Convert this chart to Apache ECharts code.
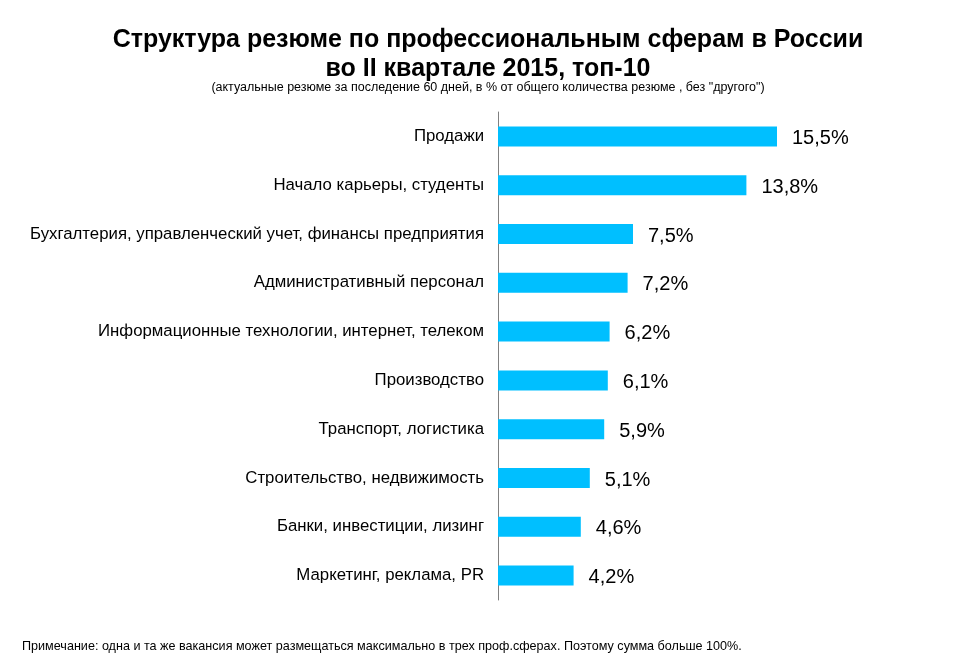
<!DOCTYPE html>
<html>
<head>
<meta charset="utf-8">
<script src="https://cdn.jsdelivr.net/npm/echarts@6/dist/echarts.min.js"></script>
<style>
    html, body { margin: 0; padding: 0; background: #fff; }
    #chart { width: 976px; height: 667px; }
</style>
</head>
<body>
<div id="chart"></div>
<script>
// categories listed bottom-to-top, the order the y axis draws them
const categories = [
    'Маркетинг, реклама, PR',
    'Банки, инвестиции, лизинг',
    'Строительство, недвижимость',
    'Транспорт, логистика',
    'Производство',
    'Информационные технологии, интернет, телеком',
    'Административный персонал',
    'Бухгалтерия, управленческий учет, финансы предприятия',
    'Начало карьеры, студенты',
    'Продажи'
];
const shares = [4.2, 4.6, 5.1, 5.9, 6.1, 6.2, 7.2, 7.5, 13.8, 15.5];

const FONT = 'Liberation Sans, Arial, sans-serif';

function getChartOption() {
    const option = {
        backgroundColor: '#ffffff',
        animation: false,
        title: [
            {
                text: 'Структура резюме по профессиональным сферам в России\nво II квартале 2015, топ-10',
                left: 'center',
                top: 26,
                padding: 0,
                textStyle: {
                    fontFamily: FONT,
                    fontSize: 25,
                    fontWeight: 'bold',
                    color: '#000',
                    lineHeight: 29,
                },
            },
            {
                text: '(актуальные резюме за последение 60 дней, в % от общего количества резюме , без "другого")',
                left: 'center',
                top: 81,
                padding: 0,
                textStyle: {
                    fontFamily: FONT,
                    fontSize: 12.5,
                    fontWeight: 'normal',
                    color: '#000',
                },
            },
            {
                text: 'Примечание: одна и та же вакансия может размещаться максимально в трех проф.сферах. Поэтому сумма больше 100%.',
                left: 22,
                top: 640,
                padding: 0,
                textStyle: {
                    fontFamily: FONT,
                    fontSize: 12.6,
                    fontWeight: 'normal',
                    color: '#000',
                },
            },
        ],
        grid: {
            left: 498,
            right: 118,
            top: 112,
            bottom: 67,
        },
        xAxis: {
            type: 'value',
            min: 0,
            max: 20,
            show: false,
        },
        yAxis: {
            type: 'category',
            data: categories,
            axisLine: {
                show: true,
                lineStyle: { color: '#808080', width: 1 },
            },
            axisTick: { show: false },
            axisLabel: {
                fontFamily: FONT,
                fontSize: 16.8,
                color: '#000',
                margin: 14,
                padding: [2, 0, 0, 0],
            },
        },
        series: [
            {
                type: 'bar',
                data: shares,
                barWidth: 20,
                itemStyle: { color: '#00BFFF' },
                label: {
                    show: true,
                    position: 'right',
                    distance: 15,
                    offset: [0, 2],
                    fontFamily: FONT,
                    fontSize: 20,
                    color: '#000',
                    formatter: (p) => p.value.toFixed(1).replace('.', ',') + '%',
                },
            },
        ],
    };
    return option;
}

const chart = echarts.init(document.getElementById('chart'));
chart.setOption(getChartOption());
</script>
</body>
</html>
